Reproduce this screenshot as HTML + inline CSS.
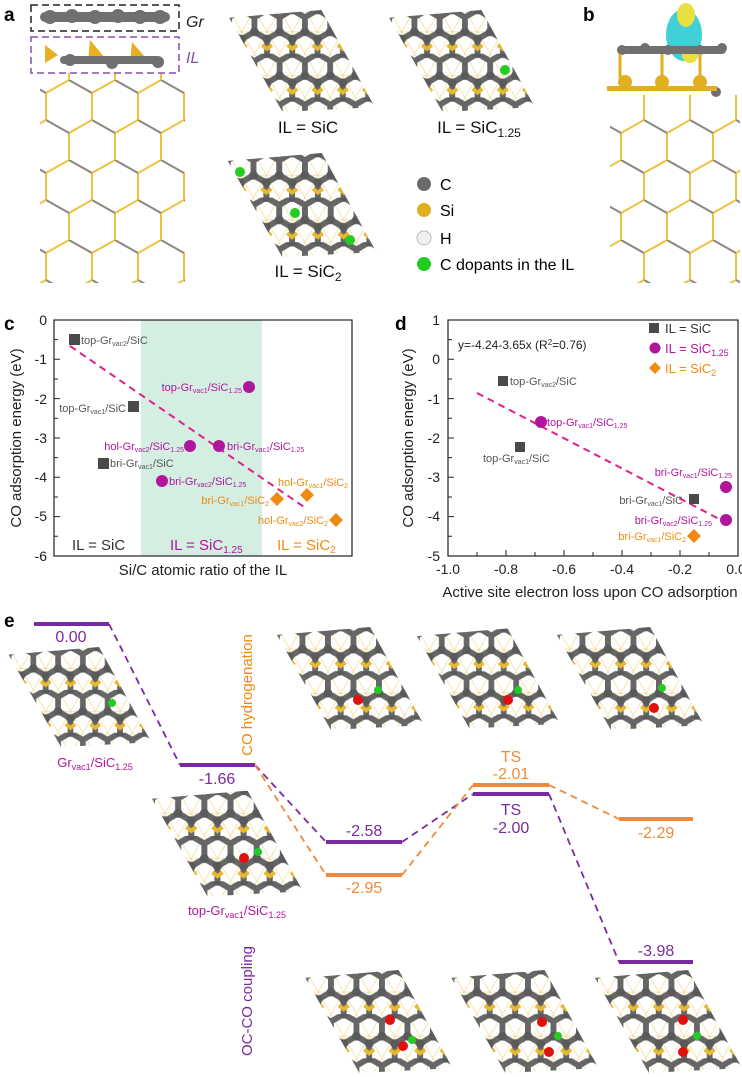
<!DOCTYPE html>
<html><head><meta charset="utf-8"><style>
html,body{margin:0;padding:0;background:#fff;}
svg{display:block;font-family:"Liberation Sans",Arial,sans-serif;}
</style></head><body>
<svg width="742" height="1077" viewBox="0 0 742 1077" xmlns="http://www.w3.org/2000/svg">
<defs>
<pattern id="hex" width="26" height="45" patternUnits="userSpaceOnUse">
<path d="M0,0 L26,45 M26,0 L0,45 M0,22.5 H26" stroke="#f3dc9a" stroke-width="0.8"/>
<path d="M13,0 L26,7.5 L26,22.5 L13,30 L0,22.5 L0,7.5 Z M13,30 L13,45" fill="none" stroke="#666" stroke-width="6"/>
<circle cx="13" cy="0" r="4.5" fill="#5a5a5a"/><circle cx="26" cy="22.5" r="4.5" fill="#5a5a5a"/><circle cx="0" cy="22.5" r="4.5" fill="#5a5a5a"/><circle cx="13" cy="30" r="4.5" fill="#5a5a5a"/>
<path d="M8,36 L13,40 L18,36" stroke="#e8b830" stroke-width="4" fill="none"/>
</pattern>
<pattern id="lat" width="46" height="80" patternUnits="userSpaceOnUse">
<path d="M23,0 L46,13 L46,40 L23,53 L0,40 L0,13 Z M23,53 L23,80" fill="none" stroke="#f0c040" stroke-width="2"/>
<path d="M23,0 L46,13 M0,40 L23,53" fill="none" stroke="#8a8a8a" stroke-width="2"/>
</pattern>
<clipPath id="mc"><polygon points="0,8 95,0 150,100 55,105"/></clipPath>
<symbol id="mol" viewBox="0 0 150 105" width="150" height="105">
<g clip-path="url(#mc)">
<rect x="0" y="0" width="150" height="105" fill="#fff"/>
<rect x="0" y="0" width="150" height="105" fill="url(#hex)"/>
</g>
</symbol>
</defs>

<!-- PANEL a -->
<text x="4" y="21" font-size="19" font-weight="bold">a</text>
<rect x="40" y="73" width="145" height="210" fill="url(#lat)"/>
<rect x="31" y="5" width="148" height="26" fill="none" stroke="#222" stroke-width="1.5" stroke-dasharray="7,4"/>
<rect x="31" y="37" width="148" height="36" fill="none" stroke="#8a4fa8" stroke-width="1.5" stroke-dasharray="7,4"/>
<g fill="#707070"><rect x="40" y="12" width="130" height="10" rx="5"/>
<circle cx="50" cy="17" r="7"/><circle cx="72" cy="16" r="7"/><circle cx="95" cy="17" r="7"/><circle cx="118" cy="16" r="7"/><circle cx="140" cy="17" r="7"/><circle cx="160" cy="17" r="7"/></g>
<g fill="#e8b020"><path d="M45,45 L58,55 L45,63 Z"/><path d="M90,40 L105,58 L88,63 Z"/><path d="M132,42 L145,57 L130,63 Z"/></g>
<g fill="#707070"><circle cx="70" cy="60" r="6"/><circle cx="112" cy="63" r="6"/><circle cx="158" cy="62" r="6"/><rect x="60" y="56" width="100" height="8" rx="4"/></g>
<text x="186" y="27" font-size="16" font-style="italic" fill="#222">Gr</text>
<text x="186" y="63" font-size="16" font-style="italic" fill="#8a4fa8">IL</text>

<use href="#mol" x="227" y="10" width="150" height="102"/>
<use href="#mol" x="386" y="10" width="152" height="102"/>
<use href="#mol" x="225" y="153" width="154" height="104"/>
<g fill="#22cc22"><circle cx="505" cy="70" r="5"/><circle cx="240" cy="172" r="5"/><circle cx="295" cy="213" r="5"/><circle cx="350" cy="240" r="5"/></g>
<text x="308" y="133" font-size="17" text-anchor="middle" fill="#111">IL = SiC</text>
<text x="479" y="133" font-size="17" text-anchor="middle" fill="#111">IL = SiC<tspan font-size="12" dy="4">1.25</tspan></text>
<text x="308" y="277" font-size="17" text-anchor="middle" fill="#111">IL = SiC<tspan font-size="12" dy="4">2</tspan></text>
<circle cx="424" cy="184" r="7" fill="#6a6a6a"/><text x="440" y="190" font-size="16">C</text>
<circle cx="424" cy="210" r="7" fill="#e0b020"/><text x="440" y="216" font-size="16">Si</text>
<circle cx="424" cy="238" r="7" fill="#f0f0f0" stroke="#bbb"/><text x="440" y="244" font-size="16">H</text>
<circle cx="424" cy="264" r="7" fill="#22cc22"/><text x="440" y="270" font-size="16">C dopants in the IL</text>

<!-- PANEL b -->
<text x="583" y="21" font-size="19" font-weight="bold">b</text>
<rect x="610" y="95" width="130" height="188" fill="url(#lat)"/>
<ellipse cx="684" cy="35" rx="18" ry="26" fill="#40d0d8"/>
<ellipse cx="686" cy="15" rx="9" ry="12" fill="#e8e040"/>
<ellipse cx="690" cy="55" rx="8" ry="8" fill="#e8e040"/>
<g fill="#707070"><rect x="618" y="46" width="108" height="8" rx="4"/><circle cx="622" cy="50" r="5"/><circle cx="645" cy="48" r="5"/><circle cx="668" cy="50" r="5"/><circle cx="700" cy="50" r="5"/><circle cx="722" cy="48" r="5"/><circle cx="716" cy="92" r="5"/></g>
<g fill="#e0b020"><circle cx="625" cy="82" r="7"/><circle cx="662" cy="82" r="7"/><circle cx="700" cy="82" r="7"/><rect x="607" y="86" width="110" height="5"/></g>
<path d="M620,54 L620,78 M662,54 L662,78 M700,54 L700,78" stroke="#e0b020" stroke-width="3"/>

<!-- PANEL c -->
<text x="4" y="330" font-size="19" font-weight="bold">c</text>
<rect x="141" y="320" width="121" height="236" fill="#d4eee2"/>
<rect x="54" y="320" width="298" height="236" fill="none" stroke="#222" stroke-width="1.2"/>
<g font-size="14" text-anchor="end" fill="#222">
<text x="47" y="325">0</text><text x="47" y="364">-1</text><text x="47" y="404">-2</text><text x="47" y="443">-3</text><text x="47" y="482">-4</text><text x="47" y="521">-5</text><text x="47" y="561">-6</text></g>
<g stroke="#222"><path d="M54,339.6h4M54,359.3h6M54,379h4M54,398.6h6M54,418.3h4M54,438h6M54,457.6h4M54,477.3h6M54,497h4M54,516.6h6M54,536.3h4"/></g>
<text transform="translate(21,438) rotate(-90)" font-size="15" text-anchor="middle" fill="#222">CO adsorption energy (eV)</text>
<text x="203" y="575" font-size="15" text-anchor="middle" fill="#222">Si/C atomic ratio of the IL</text>
<line x1="70" y1="346" x2="307" y2="509" stroke="#e0208a" stroke-width="2" stroke-dasharray="7,5"/>
<g fill="#4a4a4a"><rect x="69" y="334" width="11" height="11"/><rect x="128" y="401" width="11" height="11"/><rect x="98" y="458" width="11" height="11"/></g>
<g fill="#b0169c"><circle cx="249" cy="387" r="6"/><circle cx="190" cy="446" r="6"/><circle cx="219" cy="446" r="6"/><circle cx="162" cy="481" r="6"/></g>
<g fill="#f08a10"><path d="M277,492 l7,7 -7,7 -7,-7z"/><path d="M307,488 l7,7 -7,7 -7,-7z"/><path d="M336,513 l7,7 -7,7 -7,-7z"/></g>
<g font-size="11" fill="#555">
<text x="81" y="344">top-Gr<tspan font-size="7" dy="2">vac2</tspan><tspan dy="-2">/SiC</tspan></text>
<text x="126" y="412" text-anchor="end">top-Gr<tspan font-size="7" dy="2">vac1</tspan><tspan dy="-2">/SiC</tspan></text>
<text x="110" y="467">bri-Gr<tspan font-size="7" dy="2">vac1</tspan><tspan dy="-2">/SiC</tspan></text></g>
<g font-size="11" fill="#b0169c">
<text x="242" y="391" text-anchor="end">top-Gr<tspan font-size="7" dy="2">vac1</tspan><tspan dy="-2">/SiC</tspan><tspan font-size="7" dy="2">1.25</tspan></text>
<text x="184" y="450" text-anchor="end">hol-Gr<tspan font-size="7" dy="2">vac2</tspan><tspan dy="-2">/SiC</tspan><tspan font-size="7" dy="2">1.25</tspan></text>
<text x="227" y="450">bri-Gr<tspan font-size="7" dy="2">vac1</tspan><tspan dy="-2">/SiC</tspan><tspan font-size="7" dy="2">1.25</tspan></text>
<text x="169" y="485">bri-Gr<tspan font-size="7" dy="2">vac2</tspan><tspan dy="-2">/SiC</tspan><tspan font-size="7" dy="2">1.25</tspan></text></g>
<g font-size="11" fill="#f08a10">
<text x="278" y="486">hol-Gr<tspan font-size="7" dy="2">vac1</tspan><tspan dy="-2">/SiC</tspan><tspan font-size="7" dy="2">2</tspan></text>
<text x="269" y="504" text-anchor="end">bri-Gr<tspan font-size="7" dy="2">vac1</tspan><tspan dy="-2">/SiC</tspan><tspan font-size="7" dy="2">2</tspan></text>
<text x="328" y="524" text-anchor="end">hol-Gr<tspan font-size="7" dy="2">vac2</tspan><tspan dy="-2">/SiC</tspan><tspan font-size="7" dy="2">2</tspan></text></g>
<text x="72" y="550" font-size="15" fill="#333">IL = SiC</text>
<text x="170" y="550" font-size="15" fill="#b0169c">IL = SiC<tspan font-size="10" dy="3">1.25</tspan></text>
<text x="277" y="550" font-size="15" fill="#f08a10">IL = SiC<tspan font-size="10" dy="3">2</tspan></text>

<!-- PANEL d -->
<text x="395" y="330" font-size="19" font-weight="bold">d</text>
<rect x="448" y="320" width="290" height="236" fill="none" stroke="#222" stroke-width="1.2"/>
<g font-size="14" text-anchor="end" fill="#222">
<text x="440" y="325">1</text><text x="440" y="364">0</text><text x="440" y="404">-1</text><text x="440" y="443">-2</text><text x="440" y="482">-3</text><text x="440" y="521">-4</text><text x="440" y="561">-5</text></g>
<g stroke="#222"><path d="M448,339.6h4M448,359.3h6M448,379h4M448,398.6h6M448,418.3h4M448,438h6M448,457.6h4M448,477.3h6M448,497h4M448,516.6h6M448,536.3h4"/>
<path d="M477,556v-4M506,556v-6M535,556v-4M564,556v-6M593,556v-4M622,556v-6M651,556v-4M680,556v-6M709,556v-4"/></g>
<g font-size="14" text-anchor="middle" fill="#222"><text x="448" y="574">-1.0</text><text x="506" y="574">-0.8</text><text x="564" y="574">-0.6</text><text x="622" y="574">-0.4</text><text x="680" y="574">-0.2</text><text x="736" y="574">0.0</text></g>
<text transform="translate(413,438) rotate(-90)" font-size="15" text-anchor="middle" fill="#222">CO adsorption energy (eV)</text>
<text x="590" y="597" font-size="15" text-anchor="middle" fill="#222">Active site electron loss upon CO adsorption</text>
<text x="458" y="349" font-size="12" fill="#222">y=-4.24-3.65x  (R<tspan font-size="8" dy="-4">2</tspan><tspan dy="4">=0.76)</tspan></text>
<rect x="649" y="323" width="10" height="10" fill="#4a4a4a"/><text x="665" y="333" font-size="13" fill="#333">IL = SiC</text>
<circle cx="655" cy="348" r="5.5" fill="#b0169c"/><text x="665" y="353" font-size="13" fill="#b0169c">IL = SiC<tspan font-size="9" dy="3">1.25</tspan></text>
<path d="M655,362 l6,6 -6,6 -6,-6z" fill="#f08a10"/><text x="665" y="373" font-size="13" fill="#f08a10">IL = SiC<tspan font-size="9" dy="3">2</tspan></text>
<line x1="477" y1="393" x2="723" y2="521" stroke="#e0208a" stroke-width="2" stroke-dasharray="7,5"/>
<g fill="#4a4a4a"><rect x="498" y="376" width="10" height="10"/><rect x="515" y="442" width="10" height="10"/><rect x="689" y="494" width="10" height="10"/></g>
<g fill="#b0169c"><circle cx="541" cy="422" r="6"/><circle cx="726" cy="487" r="6"/><circle cx="726" cy="520" r="6"/></g>
<path d="M694,529 l7,7 -7,7 -7,-7z" fill="#f08a10"/>
<g font-size="11" fill="#555">
<text x="510" y="385">top-Gr<tspan font-size="7" dy="2">vac2</tspan><tspan dy="-2">/SiC</tspan></text>
<text x="483" y="462">top-Gr<tspan font-size="7" dy="2">vac1</tspan><tspan dy="-2">/SiC</tspan></text>
<text x="683" y="504" text-anchor="end">bri-Gr<tspan font-size="7" dy="2">vac1</tspan><tspan dy="-2">/SiC</tspan></text></g>
<g font-size="11" fill="#b0169c">
<text x="547" y="426">top-Gr<tspan font-size="7" dy="2">vac1</tspan><tspan dy="-2">/SiC</tspan><tspan font-size="7" dy="2">1.25</tspan></text>
<text x="732" y="476" text-anchor="end">bri-Gr<tspan font-size="7" dy="2">vac1</tspan><tspan dy="-2">/SiC</tspan><tspan font-size="7" dy="2">1.25</tspan></text>
<text x="712" y="524" text-anchor="end">bri-Gr<tspan font-size="7" dy="2">vac2</tspan><tspan dy="-2">/SiC</tspan><tspan font-size="7" dy="2">1.25</tspan></text></g>
<text x="686" y="540" font-size="11" fill="#f08a10" text-anchor="end">bri-Gr<tspan font-size="7" dy="2">vac1</tspan><tspan dy="-2">/SiC</tspan><tspan font-size="7" dy="2">2</tspan></text>

<!-- PANEL e -->
<text x="4" y="627" font-size="19" font-weight="bold">e</text>
<use href="#mol" x="5" y="647" width="150" height="100"/>
<use href="#mol" x="152" y="790" width="151" height="107"/>
<use href="#mol" x="275" y="627" width="151" height="103"/>
<use href="#mol" x="417" y="627" width="143" height="103"/>
<use href="#mol" x="555" y="627" width="151" height="103"/>
<use href="#mol" x="303" y="970" width="152" height="103"/>
<use href="#mol" x="448" y="970" width="154" height="103"/>
<use href="#mol" x="595" y="970" width="147" height="103"/>
<g fill="#22cc22"><circle cx="112" cy="703" r="4"/><circle cx="258" cy="852" r="4"/><circle cx="378" cy="690" r="4"/><circle cx="518" cy="690" r="4"/><circle cx="662" cy="688" r="4"/><circle cx="412" cy="1040" r="4"/><circle cx="558" cy="1036" r="4"/><circle cx="697" cy="1036" r="4"/></g>
<g fill="#e01010"><circle cx="244" cy="858" r="5"/><circle cx="358" cy="700" r="5"/><circle cx="508" cy="700" r="5"/><circle cx="654" cy="708" r="5"/><circle cx="390" cy="1020" r="5"/><circle cx="403" cy="1046" r="5"/><circle cx="542" cy="1022" r="5"/><circle cx="549" cy="1052" r="5"/><circle cx="683" cy="1020" r="5"/><circle cx="683" cy="1052" r="5"/></g>
<text x="95" y="767" font-size="13" fill="#b0169c" text-anchor="middle">Gr<tspan font-size="9" dy="3">vac1</tspan><tspan dy="-3">/SiC</tspan><tspan font-size="9" dy="3">1.25</tspan></text>
<text x="237" y="915" font-size="13" fill="#b0169c" text-anchor="middle">top-Gr<tspan font-size="9" dy="3">vac1</tspan><tspan dy="-3">/SiC</tspan><tspan font-size="9" dy="3">1.25</tspan></text>
<text transform="translate(252,695) rotate(-90)" font-size="15" fill="#f08a10" text-anchor="middle">CO hydrogenation</text>
<text transform="translate(252,1001) rotate(-90)" font-size="15" fill="#7a2aa0" text-anchor="middle">OC-CO coupling</text>
<g stroke-width="4"><path d="M34,624H109M180,765H255M326,842H402M473,794H549M619,962H693" stroke="#7a2aa0"/>
<path d="M326,875H402M473,785H549M619,819H693" stroke="#f08a3a"/></g>
<g stroke-width="1.8" stroke-dasharray="7,5" fill="none">
<path d="M109,624L180,765M255,765L326,842M402,842L473,794M549,794L619,962" stroke="#7a2aa0"/>
<path d="M255,765L326,875M402,875L473,785M549,785L619,819" stroke="#f08a3a"/></g>
<g font-size="16" text-anchor="middle" fill="#7a2aa0">
<text x="71" y="642">0.00</text><text x="217" y="784">-1.66</text><text x="364" y="836">-2.58</text><text x="511" y="815">TS</text><text x="511" y="833">-2.00</text><text x="656" y="956">-3.98</text></g>
<g font-size="16" text-anchor="middle" fill="#f08a3a">
<text x="364" y="893">-2.95</text><text x="511" y="762">TS</text><text x="511" y="779">-2.01</text><text x="656" y="838">-2.29</text></g>
</svg>
</body></html>
